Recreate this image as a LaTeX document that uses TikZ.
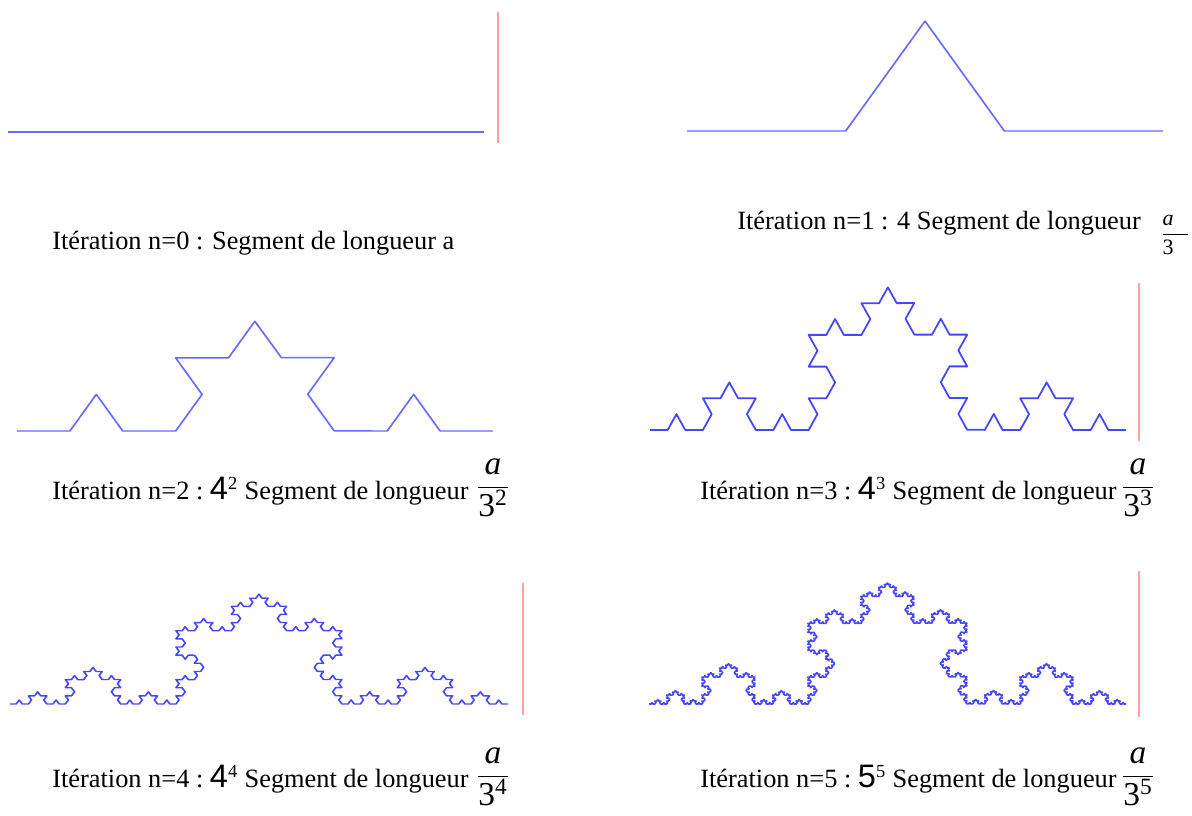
\documentclass[tikz,border=0pt]{standalone}
\usepackage{fontspec}
\setmainfont{Liberation Serif}
\newfontfamily\numfont{Liberation Sans}
\usetikzlibrary{decorations.fractals}

\definecolor{kochblue}{RGB}{105,105,255}
\definecolor{kochdeep}{RGB}{70,70,255}
\definecolor{markred}{RGB}{255,160,160}

\newcommand{\bignum}[2]{{\numfont\fontsize{18.5}{18}\selectfont #1}\textsuperscript{#2}}
\newcommand{\segfrac}[1]{$\displaystyle\frac{\mbox{\itshape a}}{\mbox{3\textsuperscript{#1}}}$}

\begin{document}
\begin{tikzpicture}[
    x=0.02cm, y=-0.02cm,
    koch/.style={draw=kochblue, line width=1pt, line join=round, decoration=Koch snowflake},
    dense/.style={koch, draw=kochdeep},
    marker/.style={draw=markred, line width=0.6pt},
    caption/.style={anchor=base west, inner sep=0pt, font=\fontsize{15}{18}\selectfont},
    fracbox/.style={inner sep=0pt, font=\fontsize{19}{22}\selectfont}
  ]
    \useasboundingbox (0,0) rectangle (1192,815);

    % n=0
    \draw[koch] (8,132) -- (484,132);
    \draw[marker] (498,12) -- (498,143);
    \node[caption] (cap0) at (52,249) {Itération n=0 : Segment de longueur a};

    % n=1
    \begin{scope}[transform canvas={shift={(0,131)}, yscale=0.8}]
      \draw[koch] decorate{(687,0) -- (1163,0)};
    \end{scope}
    \node[caption] (cap1) at (737,229) {Itération n=1 : 4 Segment de longueur};
    \node[inner sep=0pt, font=\fontsize{12.5}{14}\selectfont] (frac1) at (1175,235)
      {$\displaystyle\frac{\mbox{\itshape a}\hspace{8pt}}{\mbox{3}\hspace{8pt}}$};

    % n=2
    \begin{scope}[transform canvas={shift={(0,431)}, yscale=0.8}]
      \draw[koch] decorate{decorate{(17,0) -- (493,0)}};
    \end{scope}
    \node[caption] (cap2) at (52,499) {Itération n=2 :\ \bignum{4}{2} Segment de longueur};
    \node[fracbox] (frac2) at (493,488) {\segfrac{2}};

    % n=3
    \begin{scope}[transform canvas={shift={(0,430)}, yscale=1.04}]
      \draw[dense] decorate{decorate{decorate{(650,0) -- (1126,0)}}};
    \end{scope}
    \draw[marker] (1139,283) -- (1139,441);
    \node[caption] (cap3) at (700,499) {Itération n=3 :\ \bignum{4}{3} Segment de longueur};
    \node[fracbox] (frac3) at (1138,488) {\segfrac{3}};

    % n=4
    \begin{scope}[transform canvas={shift={(0,704)}, yscale=0.765}]
      \draw[dense] decorate{decorate{decorate{decorate{(10,0) -- (508,0)}}}};
    \end{scope}
    \draw[marker] (523,583) -- (523,715);
    \node[caption] (cap4) at (52,787) {Itération n=4 :\ \bignum{4}{4} Segment de longueur};
    \node[fracbox] (frac4) at (493,777) {\segfrac{4}};

    % n=5
    \begin{scope}[transform canvas={shift={(0,704)}, yscale=0.88}]
      \draw[dense] decorate{decorate{decorate{decorate{decorate{(649,0) -- (1126,0)}}}}};
    \end{scope}
    \draw[marker] (1139,571) -- (1139,717);
    \node[caption] (cap5) at (700,787) {Itération n=5 :\ \bignum{5}{5} Segment de longueur};
    \node[fracbox] (frac5) at (1138,777) {\segfrac{5}};
\end{tikzpicture}
\end{document}
